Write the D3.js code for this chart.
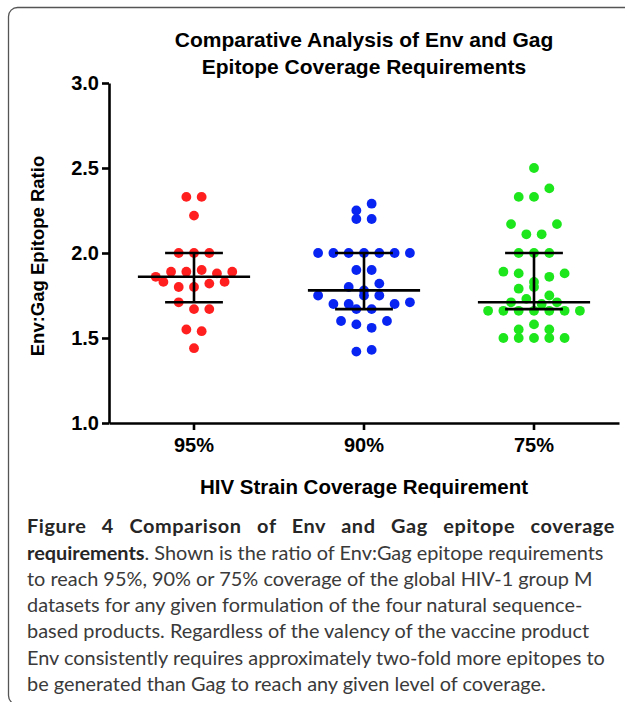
<!DOCTYPE html>
<html>
<head>
<meta charset="utf-8">
<script src="https://cdn.jsdelivr.net/npm/d3@7"></script>
<style>
  body { margin: 0; background: #fff; }
  svg { display: block; }
</style>
</head>
<body>
<div id="chart"></div>
<script>
// data
var categories = ["95%", "90%", "75%"];
var ratio95 = [2.33, 2.33, 2.22, 2.00, 2.00, 2.00, 1.86, 1.89, 1.89, 1.90, 1.88, 1.89,
    1.83, 1.80, 1.80, 1.82, 1.83, 1.71, 1.67, 1.67, 1.55, 1.54, 1.44];
var ratio90 = [2.25, 2.29, 2.20, 2.20, 2.00, 2.00, 2.00, 2.00, 2.00, 2.00, 2.00, 1.90, 1.90,
    1.80, 1.78, 1.82, 1.75, 1.70, 1.70, 1.75, 1.75, 1.70, 1.71, 1.67, 1.67,
    1.60, 1.58, 1.56, 1.60, 1.42, 1.43];
var ratio75 = [2.50, 2.33, 2.33, 2.38, 2.17, 2.11, 2.11, 2.17, 2.00, 2.00, 2.00,
    1.89, 1.88, 1.83, 1.86, 1.88, 1.79, 1.80, 1.75, 1.71, 1.73, 1.70, 1.71,
    1.66, 1.66, 1.66, 1.66, 1.66, 1.66, 1.66, 1.55, 1.58, 1.55,
    1.50, 1.50, 1.50, 1.50, 1.50];
var medians = [1.86, 1.78, 1.71];
var lowerQ = [1.71, 1.67, 1.67];
var upperQ = [2.00, 2.00, 2.00];
var yTicks = [1.0, 1.5, 2.0, 2.5, 3.0];
var dotColors = ["#ff1f1f", "#0824f2", "#1de61d"];

var titleLines = ["Comparative Analysis of Env and Gag", "Epitope Coverage Requirements"];
var yTitle = "Env:Gag Epitope Ratio";
var xTitle = "HIV Strain Coverage Requirement";
var captionHead = "Figure 4 Comparison of Env and Gag epitope coverage";
var captionBold = "requirements";
var captionLines = [
    ". Shown is the ratio of Env:Gag epitope requirements",
    "to reach 95%, 90% or 75% coverage of the global HIV-1 group M",
    "datasets for any given formulation of the four natural sequence-",
    "based products. Regardless of the valency of the vaccine product",
    "Env consistently requires approximately two-fold more epitopes to",
    "be generated than Gag to reach any given level of coverage."
];

var groups = [ratio95, ratio90, ratio75];

var width = 625, height = 702;
var bold = "'Liberation Sans', Arial, Helvetica, sans-serif";
var capFont = "Lato, 'Open Sans', sans-serif";

var svg = d3.select("#chart").append("svg")
    .attr("width", width)
    .attr("height", height);

// panel frame (runs off the right and bottom edges)
svg.append("rect")
    .attr("x", 8.5).attr("y", 7.5)
    .attr("width", 700).attr("height", 697)
    .attr("rx", 9)
    .attr("fill", "none")
    .attr("stroke", "#555")
    .attr("stroke-width", 1.3);

var x = d3.scaleBand().domain(categories).range([109, 619]);
var y = d3.scaleLinear().domain([1, 3]).range([423, 83]);

// title
svg.append("g").selectAll("text")
    .data(titleLines)
    .enter().append("text")
    .attr("x", 364)
    .attr("y", function (d, i) { return 47 + i * 26.5; })
    .attr("text-anchor", "middle")
    .style("font-family", bold)
    .style("font-weight", "bold")
    .style("font-size", "21px")
    .text(function (d) { return d; });

// spread points sideways, GraphPad style: points are grouped into rows
// about one dot high, and each row is centred on the column
function swarm(values, center) {
    var unit = 7.65, rowGap = 10.5;
    var pts = values.map(function (v, i) { return { v: v, i: i, py: y(v) }; });
    var sorted = pts.slice().sort(function (a, b) { return a.py - b.py; });
    var rows = [], row = null;
    sorted.forEach(function (p) {
        if (!row || p.py - row[0].py > rowGap) { row = []; rows.push(row); }
        row.push(p);
    });
    rows.forEach(function (r) {
        r.sort(function (a, b) { return a.i - b.i; });
        r.forEach(function (p, k) {
            p.px = center + (k - (r.length - 1) / 2) * 2 * unit;
        });
    });
    return pts;
}

var plot = svg.append("g");

groups.forEach(function (vals, gi) {
    var cx = x(categories[gi]) + x.bandwidth() / 2;
    plot.append("g").selectAll("circle")
        .data(swarm(vals, cx))
        .enter().append("circle")
        .attr("cx", function (d) { return d.px; })
        .attr("cy", function (d) { return d.py; })
        .attr("r", 4.9)
        .attr("fill", dotColors[gi]);
});

// median and interquartile range
var bw = x.bandwidth();
var stats = categories.map(function (c, i) {
    return { c: c, med: medians[i], lo: lowerQ[i], hi: upperQ[i] };
});
var bars = plot.append("g")
    .attr("stroke", "#000")
    .attr("stroke-width", 2.6);
stats.forEach(function (s) {
    var cx = x(s.c) + bw / 2;
    bars.append("line")
        .attr("x1", cx - bw * 0.33).attr("x2", cx + bw * 0.33)
        .attr("y1", y(s.med)).attr("y2", y(s.med));
    bars.append("line")
        .attr("x1", cx).attr("x2", cx)
        .attr("y1", y(s.lo)).attr("y2", y(s.hi));
    [s.lo, s.hi].forEach(function (v) {
        bars.append("line")
            .attr("x1", cx - bw * 0.17).attr("x2", cx + bw * 0.17)
            .attr("y1", y(v)).attr("y2", y(v));
    });
});

// axes
var yAxis = svg.append("g")
    .attr("transform", "translate(109,0)")
    .call(d3.axisLeft(y).tickValues(yTicks).tickFormat(d3.format(".1f"))
        .tickSize(7).tickSizeOuter(0).tickPadding(3));
var xAxis = svg.append("g")
    .attr("transform", "translate(0,423)")
    .call(d3.axisBottom(x).tickSize(7).tickSizeOuter(0));
xAxis.selectAll("text").attr("y", 29).attr("dy", null);

[yAxis, xAxis].forEach(function (a) {
    a.selectAll("path, line").attr("stroke", "#000").attr("stroke-width", 2.6);
    a.selectAll("text")
        .attr("fill", "#000")
        .style("font-family", bold)
        .style("font-weight", "bold")
        .style("font-size", "20px");
});

svg.append("text")
    .attr("transform", "translate(44,256) rotate(-90)")
    .attr("text-anchor", "middle")
    .style("font-family", bold)
    .style("font-weight", "bold")
    .style("font-size", "18.5px")
    .text(yTitle);

svg.append("text")
    .attr("x", 364).attr("y", 494)
    .attr("text-anchor", "middle")
    .style("font-family", bold)
    .style("font-weight", "bold")
    .style("font-size", "20.5px")
    .text(xTitle);

// caption
var cap = svg.append("g")
    .style("font-family", capFont)
    .style("font-size", "19.9px");

// first line is justified: spread the spare room over the word gaps
var head = cap.append("text")
    .attr("x", 27).attr("y", 533)
    .attr("fill", "#262626")
    .style("font-weight", "bold")
    .style("letter-spacing", "0.6px")
    .text(captionHead);
var spare = 588 - head.node().getComputedTextLength();
var gaps = captionHead.split(" ").length - 1;
if (spare > 0) head.style("word-spacing", (spare / gaps) + "px");

cap.selectAll("text.body")
    .data(captionLines)
    .enter().append("text")
    .attr("class", "body")
    .attr("x", 27)
    .attr("y", function (d, i) { return 559.5 + i * 26.3; })
    .attr("fill", "#3a3a3a")
    .each(function (d, i) {
        var t = d3.select(this);
        if (i === 0) {
            t.append("tspan").style("font-weight", "bold").attr("fill", "#262626").text(captionBold);
        }
        t.append("tspan").text(d);
    });
</script>
</body>
</html>
